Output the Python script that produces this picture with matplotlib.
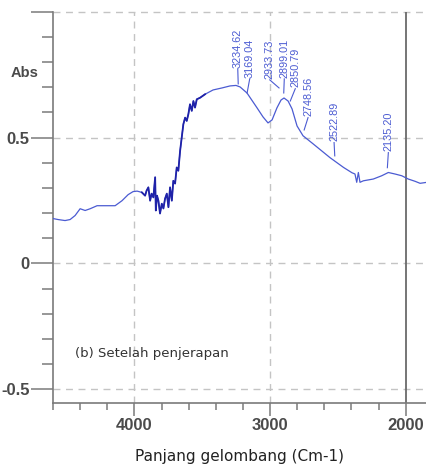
import numpy as np
import matplotlib
matplotlib.use("Agg")
import matplotlib.pyplot as plt
from matplotlib.ticker import MultipleLocator, FixedLocator

# FTIR spectrum after adsorption (wavenumber in cm-1, absorbance)
wavenumber = [4600, 4562, 4511, 4474, 4437, 4400, 4363, 4326, 4275, 4216,
              4142, 4091, 4046, 4010, 3980, 3945,
              3921, 3910, 3897, 3884, 3873, 3860, 3847, 3842, 3833, 3823,
              3811, 3798, 3786, 3774, 3761, 3749, 3737, 3724, 3713, 3700,
              3688, 3676, 3663, 3651, 3639, 3626, 3614, 3602, 3590, 3577,
              3565, 3553, 3540, 3516, 3479,
              3420, 3354, 3295, 3251, 3221, 3170, 3096, 3052, 3015, 2985,
              2949, 2919, 2897, 2867, 2838, 2801, 2757, 2683, 2558, 2458,
              2396, 2374, 2361, 2349, 2337, 2312, 2239, 2177, 2128, 2079,
              2029, 1981, 1931, 1894, 1843]
absorbance = [0.178, 0.174, 0.170, 0.174, 0.190, 0.217, 0.210, 0.217, 0.229, 0.229,
              0.229, 0.249, 0.273, 0.285, 0.287, 0.282,
              0.269, 0.289, 0.302, 0.249, 0.277, 0.262, 0.342, 0.210, 0.269, 0.249,
              0.198, 0.237, 0.218, 0.257, 0.277, 0.223, 0.302, 0.249, 0.328, 0.317,
              0.381, 0.368, 0.447, 0.500, 0.553, 0.579, 0.566, 0.593, 0.632, 0.606,
              0.645, 0.619, 0.652, 0.658, 0.672,
              0.689, 0.697, 0.705, 0.707, 0.701, 0.677, 0.618, 0.582, 0.558, 0.570,
              0.618, 0.649, 0.657, 0.645, 0.614, 0.546, 0.507, 0.475, 0.420, 0.381,
              0.360, 0.355, 0.322, 0.361, 0.322, 0.328, 0.335, 0.348, 0.361, 0.355,
              0.348, 0.335, 0.326, 0.318, 0.322]

# labelled peaks
peaks = [3234.62, 3169.04, 2933.73, 2899.01, 2850.79, 2748.56, 2522.89, 2135.20]
peak_text_x = [3238, 3150, 3002, 2895, 2814, 2720, 2528, 2128]
peak_text_y = [0.778, 0.738, 0.734, 0.738, 0.699, 0.584, 0.485, 0.445]
peak_line_y = [0.713, 0.677, 0.697, 0.677, 0.645, 0.530, 0.427, 0.380]

wn = np.array(wavenumber)
ab = np.array(absorbance)

fig = plt.figure(figsize=(4.27, 4.66), dpi=100)
ax = fig.add_axes([0.1241, 0.1352, 0.8759, 0.8397])

line_c = "#4b5bd2"
noisy = (wn <= 3950) & (wn >= 3470)
ax.plot(wn, ab, color=line_c, lw=0.9, zorder=3)
ax.plot(wn[noisy], ab[noisy], color="#1f22a8", lw=1.3, zorder=4)

ax.set_xlim(4600, 1843)
ax.set_ylim(-0.555, 1.0)

# grid
for gx in [4000, 3000]:
    ax.axvline(gx, color="#c4c4c4", lw=1.0, ls=(0, (5, 4)), zorder=1)
for gy in [1.0, 0.5, 0.0, -0.5]:
    ax.axhline(gy, color="#c4c4c4", lw=1.0, ls=(0, (5, 4)), zorder=1, clip_on=False)
ax.axvline(2000, color="#6a6a6a", lw=1.3, zorder=2)

# peak labels with leader lines
for p, tx, ty, ly in zip(peaks, peak_text_x, peak_text_y, peak_line_y):
    ax.text(tx, ty, f"{p:.2f}", rotation=90, ha="center", va="bottom",
            fontsize=7.8, color=line_c, family="Liberation Sans")
    ax.plot([tx, p], [ty - 0.005, ly], color=line_c, lw=0.8)

for s in ["top", "right"]:
    ax.spines[s].set_visible(False)
for s in ["left", "bottom"]:
    ax.spines[s].set_color("#7a7a7a")
    ax.spines[s].set_linewidth(1.2)

ax.xaxis.set_major_locator(FixedLocator([4000, 3000, 2000]))
ax.xaxis.set_minor_locator(MultipleLocator(200))
ax.set_xticklabels(["4000", "3000", "2000"])
ax.yaxis.set_major_locator(FixedLocator([1.0, 0.5, 0.0, -0.5]))
ax.yaxis.set_minor_locator(MultipleLocator(0.1))
ax.set_yticklabels(["", "0.5", "0", "-0.5"])
ax.tick_params(axis="x", which="major", length=9, width=1.1, color="#7a7a7a",
               labelsize=12, labelcolor="#4a4a4a", pad=2)
ax.tick_params(axis="x", which="minor", length=5, width=1.1, color="#7a7a7a")
ax.tick_params(axis="y", which="major", length=16, width=1.1, color="#7a7a7a",
               labelsize=12, labelcolor="#4a4a4a", pad=1)
ax.tick_params(axis="y", which="minor", length=8, width=1.1, color="#7a7a7a")
for lab in ax.get_xticklabels() + ax.get_yticklabels():
    lab.set_family("Liberation Sans")
    lab.set_fontweight("bold")

ax.text(-0.077, 0.843, "Abs", transform=ax.transAxes, ha="center", va="center",
        fontsize=10.5, fontweight="bold", color="#4a4a4a", family="Liberation Sans")
ax.text(0.058, 0.126, "(b) Setelah penjerapan", transform=ax.transAxes,
        ha="left", va="center", fontsize=9.5, color="#333333", family="DejaVu Sans")
ax.set_xlabel("Panjang gelombang (Cm-1)", fontsize=11, color="#222222",
              family="DejaVu Sans", labelpad=11)

fig.savefig("out.png", dpi=100)
